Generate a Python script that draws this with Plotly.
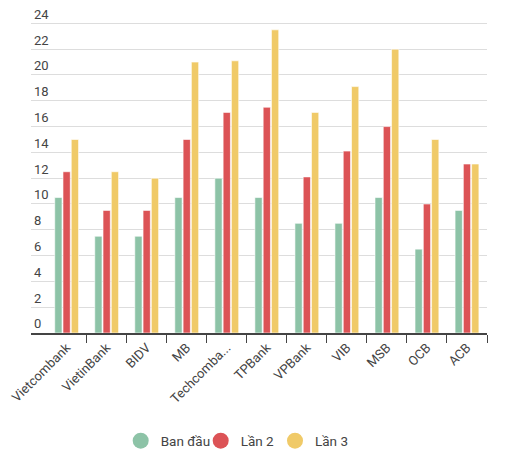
import plotly.graph_objects as go

# banks and interest values
banks = ["Vietcombank", "VietinBank", "BIDV", "MB", "Techcombank", "TPBank",
         "VPBank", "VIB", "MSB", "OCB", "ACB"]
bank_labels = ["Vietcombank", "VietinBank", "BIDV", "MB", "Techcomba...", "TPBank",
               "VPBank", "VIB", "MSB", "OCB", "ACB"]
ban_dau = [10.5, 7.5, 7.5, 10.5, 12, 10.5, 8.5, 8.5, 10.5, 6.5, 9.5]
lan_2 = [12.5, 9.5, 9.5, 15, 17.1, 17.5, 12.1, 14.1, 16, 10, 13.1]
lan_3 = [15, 12.5, 12, 21, 21.1, 23.5, 17.1, 19.1, 22, 15, 13.1]
series_names = ["Ban đầu", "Lần 2", "Lần 3"]
series_colors = ["#8dc3a7", "#dc5356", "#f0ca68"]
y_ticks = list(range(0, 25, 2))

font_family = "Roboto, Arial, sans-serif"
text_col = "#444444"

W, H = 510, 459
L, R, T, B = 31, 23, 3, 126
plot_w = W - L - R
legend_x = [(c - 20) / plot_w for c in (109.7, 189.7, 264)]

fig = go.Figure()
for i, (name, vals, col) in enumerate(zip(series_names, [ban_dau, lan_2, lan_3], series_colors)):
    fig.add_bar(x=banks, y=vals, name=name, showlegend=False,
                marker=dict(color=col, line=dict(color="rgba(255,255,255,0.6)", width=1)))
    # round legend marker, each in its own legend box for tight spacing
    fig.add_scatter(x=[None], y=[None], mode="markers", name=name,
                    legend="legend" if i == 0 else f"legend{i + 1}",
                    marker=dict(color=col, size=16, symbol="circle"))

leg = dict(orientation="h", xanchor="left", y=-0.327, yanchor="middle",
           font=dict(size=13.5, color=text_col), itemsizing="trace",
           bgcolor="rgba(0,0,0,0)")

fig.update_layout(
    width=W, height=H,
    margin=dict(l=L, r=R, t=T, b=B, autoexpand=False),
    paper_bgcolor="white", plot_bgcolor="white",
    font=dict(family=font_family, color=text_col, size=13),
    barmode="group", bargap=0.38, bargroupgap=0.12,
    showlegend=True,
    legend=dict(leg, x=legend_x[0]),
    legend2=dict(leg, x=legend_x[1]),
    legend3=dict(leg, x=legend_x[2]),
    xaxis=dict(
        tickmode="array", tickvals=banks, ticktext=bank_labels,
        range=[-0.89, 10.5], tickangle=-45, tickfont=dict(size=13, color=text_col),
        showline=True, linecolor="#444444", linewidth=2, automargin=False,
        ticks="outside", tickson="boundaries", ticklen=8, tickcolor="#444444", tickwidth=1,
        showgrid=False, fixedrange=True,
    ),
    yaxis=dict(
        range=[0, 25.58], tickvals=y_ticks, ticklabelposition="inside top",
        tickfont=dict(size=13, color=text_col), automargin=False,
        showgrid=True, gridcolor="#dddddd", gridwidth=1,
        zeroline=False, showline=False, ticks="", fixedrange=True,
    ),
)

# drop the browser's default body margin so the 510x459 figure fills the window
fig.write_html("out.html", config={"displayModeBar": False},
               post_script="document.body.style.margin = '0px';")
